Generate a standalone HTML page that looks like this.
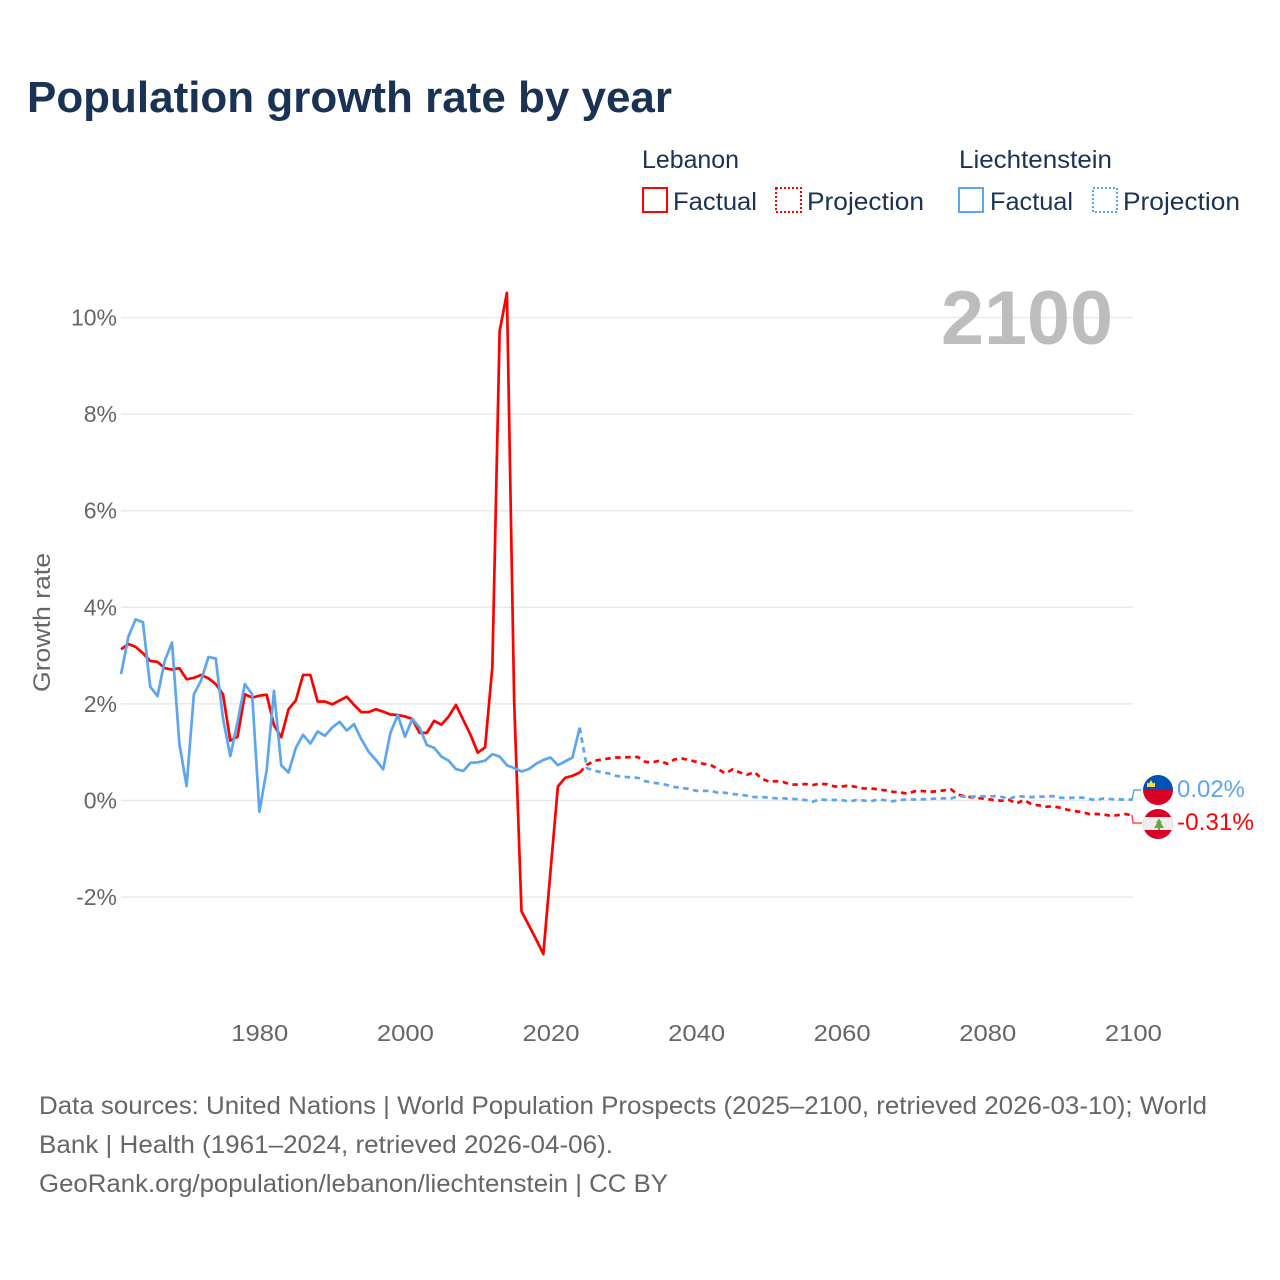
<!DOCTYPE html>
<html lang="en">
<head>
<meta charset="utf-8">
<title>Population growth rate by year</title>
<style>
html,body{margin:0;padding:0;background:#fff;width:1280px;height:1280px;overflow:hidden}
svg{display:block}
text{font-family:"Liberation Sans",sans-serif}
</style>
</head>
<body>
<svg id="chart" xmlns="http://www.w3.org/2000/svg" width="1280" height="1280" viewBox="0 0 1280 1280">
  <rect width="1280" height="1280" fill="#fff"/>
  <text x="27" y="112" font-size="44" font-weight="700" fill="#1a3355" textLength="645" lengthAdjust="spacingAndGlyphs">Population growth rate by year</text>

  <g font-size="25" fill="#1a3355">
    <text x="642" y="168" textLength="97" lengthAdjust="spacingAndGlyphs">Lebanon</text>
    <text x="959" y="168" textLength="153" lengthAdjust="spacingAndGlyphs">Liechtenstein</text>
    <g>
      <rect x="643" y="188" width="24" height="24" fill="none" stroke="#ff0000" stroke-width="2"/>
      <text x="673" y="210" textLength="84" lengthAdjust="spacingAndGlyphs">Factual</text>
    </g>
    <g>
      <rect x="776" y="188" width="25" height="24" fill="none" stroke="#ff0000" stroke-width="2" stroke-dasharray="2 2"/>
      <text x="807" y="210" textLength="117" lengthAdjust="spacingAndGlyphs">Projection</text>
    </g>
    <g>
      <rect x="959" y="188" width="24" height="24" fill="none" stroke="#5da5ee" stroke-width="2"/>
      <text x="990" y="210" textLength="83" lengthAdjust="spacingAndGlyphs">Factual</text>
    </g>
    <g>
      <rect x="1093" y="188" width="24" height="24" fill="none" stroke="#5da5ee" stroke-width="2" stroke-dasharray="2 2"/>
      <text x="1123" y="210" textLength="117" lengthAdjust="spacingAndGlyphs">Projection</text>
    </g>
  </g>

  <g id="grid"></g>
  <g id="yticks" font-size="23" fill="#666"></g>
  <g id="xticks" font-size="23" fill="#666"></g>
  <text transform="translate(50,692) rotate(-90)" font-size="24" fill="#666" textLength="139" lengthAdjust="spacingAndGlyphs">Growth rate</text>
  <text x="1113" y="344" font-size="76" font-weight="700" fill="#bdbdbd" text-anchor="end" textLength="172" lengthAdjust="spacingAndGlyphs">2100</text>

  <g id="series"></g>

  <g>
    <path d="M1132 800L1134 790L1141 790" fill="none" stroke="#5da5ee" stroke-width="1.5"/>
    <clipPath id="clip-li"><circle cx="1158" cy="790" r="15"/></clipPath>
    <g clip-path="url(#clip-li)">
      <rect x="1143" y="775" width="30" height="15" fill="#0052b4"/>
      <rect x="1143" y="790" width="30" height="15" fill="#d80027"/>
      <path d="M1147 787L1147 782.500L1149 783.500L1151 780L1153 783.500L1155 782.500L1155 787Z" fill="#ffda44"/>
    </g>
    <text x="1177" y="797" font-size="24.5" fill="#5da5ee" textLength="68" lengthAdjust="spacingAndGlyphs">0.02%</text>
  </g>
  <g>
    <path d="M1132 815L1133 823L1142 823" fill="none" stroke="#ff4d4d" stroke-width="1.5"/>
    <clipPath id="clip-lb"><circle cx="1158" cy="824" r="15"/></clipPath>
    <g clip-path="url(#clip-lb)">
      <rect x="1143" y="809" width="30" height="30" fill="#d80027"/>
      <rect x="1143" y="817" width="30" height="13" fill="#eeeeee"/>
      <path d="M1159 818.500L1162 823L1160.800 823L1164 828L1160 828L1160 830L1158 830L1158 828L1154 828L1157.200 823L1156 823Z" fill="#6da544"/>
    </g>
    <text x="1177" y="830" font-size="24.5" fill="#ff0000" textLength="77" lengthAdjust="spacingAndGlyphs">-0.31%</text>
  </g>

  <g font-size="25" fill="#666">
    <text x="39" y="1114" textLength="1168" lengthAdjust="spacingAndGlyphs">Data sources: United Nations | World Population Prospects (2025–2100, retrieved 2026-03-10); World</text>
    <text x="39" y="1153" textLength="574" lengthAdjust="spacingAndGlyphs">Bank | Health (1961–2024, retrieved 2026-04-06).</text>
    <text x="39" y="1192" textLength="629" lengthAdjust="spacingAndGlyphs">GeoRank.org/population/lebanon/liechtenstein | CC BY</text>
  </g>
</svg>
<script>
const yTickValues = [-2, 0, 2, 4, 6, 8, 10];
const yTickLabels = ['-2%', '0%', '2%', '4%', '6%', '8%', '10%'];
const xTickYears = [1980, 2000, 2020, 2040, 2060, 2080, 2100];
const xTickLabels = ['1980', '2000', '2020', '2040', '2060', '2080', '2100'];
const factualStartYear = 1961;
const projectionStartYear = 2024;
const lebanonFactual = [3.13,3.24,3.18,3.05,2.89,2.87,2.74,2.71,2.74,2.51,2.54,2.60,2.53,2.41,2.20,1.24,1.32,2.20,2.13,2.17,2.19,1.56,1.31,1.89,2.07,2.60,2.60,2.05,2.05,1.99,2.07,2.15,1.98,1.83,1.83,1.89,1.84,1.78,1.77,1.74,1.69,1.40,1.40,1.65,1.57,1.74,1.98,1.67,1.36,0.99,1.10,2.77,9.72,10.51,2.02,-2.29,-2.58,-2.87,-3.18,-1.44,0.29,0.47,0.51,0.58];
const lebanonProjection = [0.58,0.74,0.82,0.85,0.87,0.89,0.89,0.90,0.90,0.80,0.79,0.825,0.76,0.85,0.87,0.84,0.80,0.76,0.735,0.65,0.56,0.645,0.58,0.535,0.59,0.45,0.39,0.40,0.38,0.33,0.33,0.34,0.32,0.35,0.335,0.29,0.29,0.31,0.28,0.25,0.25,0.23,0.21,0.18,0.17,0.14,0.19,0.197,0.18,0.19,0.21,0.23,0.12,0.08,0.066,0.045,0.03,0.004,-0.004,0.01,-0.06,0.01,-0.07,-0.10,-0.13,-0.12,-0.15,-0.19,-0.22,-0.24,-0.28,-0.28,-0.29,-0.32,-0.30,-0.28,-0.31];
const liechtensteinFactual = [2.62,3.39,3.75,3.69,2.36,2.16,2.89,3.27,1.18,0.30,2.20,2.49,2.97,2.94,1.70,0.92,1.63,2.41,2.20,-0.23,0.63,2.27,0.73,0.58,1.09,1.36,1.18,1.43,1.34,1.51,1.63,1.45,1.58,1.27,1.01,0.84,0.645,1.40,1.77,1.32,1.69,1.51,1.15,1.09,0.91,0.825,0.65,0.61,0.78,0.79,0.825,0.96,0.91,0.73,0.67,0.60,0.65,0.76,0.84,0.89,0.73,0.81,0.89,1.51];
const liechtensteinProjection = [1.51,0.67,0.62,0.58,0.56,0.51,0.49,0.48,0.47,0.40,0.37,0.35,0.32,0.28,0.26,0.24,0.20,0.20,0.20,0.16,0.16,0.135,0.12,0.10,0.07,0.07,0.06,0.045,0.045,0.03,0.03,0.01,-0.024,0.024,0.01,0.01,0.01,-0.02,0.01,0,-0.015,0.024,0.004,-0.015,0.01,0.024,0.02,0.024,0.03,0.04,0.045,0.04,0.09,0.08,0.08,0.09,0.08,0.09,0.075,0.03,0.09,0.08,0.07,0.08,0.08,0.09,0.06,0.05,0.06,0.06,0.03,0.01,0.045,0.03,0.02,0.02,0.02];

const NS = 'http://www.w3.org/2000/svg';
function xScale(year) { return 259.4 + (year - 1980) * 7.28; }
function yScale(value) { return 800.5 - value * 48.3; }

function lineD(values, startYear) {
  return values.map(function (v, i) {
    return (i ? 'L' : 'M') + xScale(startYear + i).toFixed(2) + ' ' + yScale(v).toFixed(2);
  }).join('');
}

const gridGroup = document.getElementById('grid');
const yGroup = document.getElementById('yticks');
yTickValues.forEach(function (v, i) {
  const g = document.createElementNS(NS, 'line');
  
  
  g.setAttribute('x1', 121);
  g.setAttribute('x2', 1133);
  g.setAttribute('y1', yScale(v));
  g.setAttribute('y2', yScale(v));
  g.setAttribute('stroke', '#e9e9e9');
  g.setAttribute('stroke-width', 1.5);
  gridGroup.appendChild(g);
  const t = document.createElementNS(NS, 'text');
  
  
  t.setAttribute('x', 117);
  t.setAttribute('y', yScale(v) + 8);
  t.setAttribute('text-anchor', 'end');
  t.textContent = yTickLabels[i];
  yGroup.appendChild(t);
});

const xGroup = document.getElementById('xticks');
xTickYears.forEach(function (yr, i) {
  const t = document.createElementNS(NS, 'text');
  
  
  t.setAttribute('x', xScale(yr) + 0.4);
  t.setAttribute('y', 1041);
  t.setAttribute('text-anchor', 'middle');
  t.setAttribute('textLength', 57);
  t.setAttribute('lengthAdjust', 'spacingAndGlyphs');
  t.textContent = xTickLabels[i];
  xGroup.appendChild(t);
});

const seriesGroup = document.getElementById('series');
function addLine(name, values, startYear, colour, dash) {
  const p = document.createElementNS(NS, 'path');
  
  
  p.setAttribute('d', lineD(values, startYear));
  p.setAttribute('fill', 'none');
  p.setAttribute('stroke', colour);
  p.setAttribute('stroke-width', 2.7);
  p.setAttribute('stroke-linejoin', 'round');
  if (dash) p.setAttribute('stroke-dasharray', dash);
  seriesGroup.appendChild(p);
}
addLine('line-lebanon-projection', lebanonProjection, projectionStartYear, '#ff0000', '5.5 4.5');
addLine('line-lebanon-factual', lebanonFactual, factualStartYear, '#ff0000', '');
addLine('line-liechtenstein-projection', liechtensteinProjection, projectionStartYear, '#5da5ee', '5.5 4.5');
addLine('line-liechtenstein-factual', liechtensteinFactual, factualStartYear, '#5da5ee', '');
</script>
</body>
</html>
